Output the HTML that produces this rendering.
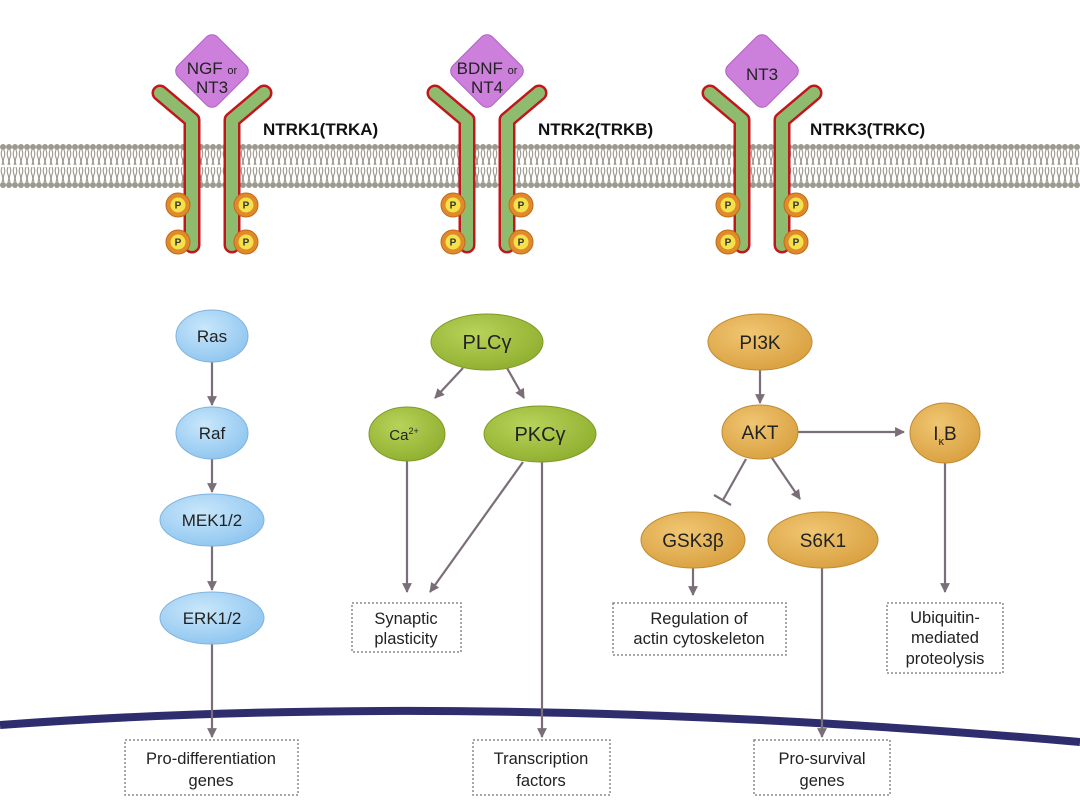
<!DOCTYPE html>
<html><head><meta charset="utf-8"><style>
html,body{margin:0;padding:0;background:#fff;}
svg{display:block;font-family:"Liberation Sans",Arial,sans-serif;}
</style></head><body>
<svg width="1080" height="805" viewBox="0 0 1080 805" xmlns="http://www.w3.org/2000/svg">
<defs>
<pattern id="lip" x="0" y="143" width="6" height="46" patternUnits="userSpaceOnUse">
<rect x="0" y="0" width="6" height="46" fill="#fff"/>
<circle cx="3" cy="4" r="3" fill="#9c998e"/>
<path d="M2 7 q-1.5 4 0 7.5 q1.5 4 0 7.5 M4 7 q1.5 4 0 7.5 q-1.5 4 0 7.5" stroke="#9c998e" stroke-width="1.1" fill="none"/>
<path d="M2 24 q-1.5 4 0 7.5 q1.5 4 0 7.5 M4 24 q1.5 4 0 7.5 q-1.5 4 0 7.5" stroke="#9c998e" stroke-width="1.1" fill="none"/>
<circle cx="3" cy="42" r="3" fill="#9c998e"/>
</pattern>
<marker id="ar" viewBox="0 0 10 10" refX="9" refY="5" markerWidth="4.5" markerHeight="4.5" orient="auto"><path d="M0 0 L10 5 L0 10z" fill="#7a6f78"/></marker>
<radialGradient id="gb" cx="40%" cy="35%" r="70%"><stop offset="0" stop-color="#c9e7fb"/><stop offset="1" stop-color="#8ec5ef"/></radialGradient>
<radialGradient id="gg" cx="40%" cy="35%" r="70%"><stop offset="0" stop-color="#b8d35a"/><stop offset="1" stop-color="#8fae2e"/></radialGradient>
<radialGradient id="go" cx="40%" cy="35%" r="70%"><stop offset="0" stop-color="#f0c672"/><stop offset="1" stop-color="#d9a040"/></radialGradient>
<g id="rec">
<path d="M-52 93 L-20 120 L-20 245" stroke="#c0171c" stroke-width="17" fill="none" stroke-linecap="round" stroke-linejoin="round"/>
<path d="M52 93 L20 120 L20 245" stroke="#c0171c" stroke-width="17" fill="none" stroke-linecap="round" stroke-linejoin="round"/>
<path d="M-52 93 L-20 120 L-20 245" stroke="#8fbb6e" stroke-width="12" fill="none" stroke-linecap="round" stroke-linejoin="round"/>
<path d="M52 93 L20 120 L20 245" stroke="#8fbb6e" stroke-width="12" fill="none" stroke-linecap="round" stroke-linejoin="round"/>
<g fill="#e08a2a" stroke="#c06a1a" stroke-width="1">
<circle cx="-34" cy="205" r="12"/><circle cx="-34" cy="242" r="12"/><circle cx="34" cy="205" r="12"/><circle cx="34" cy="242" r="12"/></g>
<g fill="#f5e14a"><circle cx="-34" cy="205" r="7.5"/><circle cx="-34" cy="242" r="7.5"/><circle cx="34" cy="205" r="7.5"/><circle cx="34" cy="242" r="7.5"/></g>
<g font-size="10" font-weight="bold" text-anchor="middle" fill="#333"><text x="-34" y="208.5">P</text><text x="-34" y="245.5">P</text><text x="34" y="208.5">P</text><text x="34" y="245.5">P</text></g>
</g>
</defs>
<rect x="0" y="143" width="1080" height="46" fill="url(#lip)"/>
<use href="#rec" x="212" y="0"/><use href="#rec" x="487" y="0"/><use href="#rec" x="762" y="0"/>
<g fill="#cc80dc" stroke="#b060c4" stroke-width="1">
<rect x="184" y="43" width="56" height="56" rx="8" transform="rotate(45 212 71)"/>
<rect x="459" y="43" width="56" height="56" rx="8" transform="rotate(45 487 71)"/>
<rect x="734" y="43" width="56" height="56" rx="8" transform="rotate(45 762 71)"/>
</g>
<g fill="#222" text-anchor="middle" font-size="17">
<text x="212" y="74">NGF <tspan font-size="11">or</tspan></text><text x="212" y="93">NT3</text>
<text x="487" y="74">BDNF <tspan font-size="11">or</tspan></text><text x="487" y="93">NT4</text>
<text x="762" y="80">NT3</text>
</g>
<g font-size="17" font-weight="bold" fill="#111">
<text x="263" y="135">NTRK1(TRKA)</text><text x="538" y="135">NTRK2(TRKB)</text><text x="810" y="135">NTRK3(TRKC)</text>
</g>
<path d="M0 725 Q480 690 1080 742" stroke="#2e2d6e" stroke-width="8" fill="none"/>
<g stroke="#7a6f78" stroke-width="2.2" fill="none" marker-end="url(#ar)">
<line x1="212" y1="362" x2="212" y2="405"/>
<line x1="212" y1="459" x2="212" y2="492"/>
<line x1="212" y1="546" x2="212" y2="590"/>
<line x1="212" y1="644" x2="212" y2="737"/>
<line x1="463" y1="368" x2="435" y2="398"/>
<line x1="507" y1="368" x2="524" y2="398"/>
<line x1="407" y1="460" x2="407" y2="592"/>
<line x1="523" y1="462" x2="430" y2="592"/>
<line x1="542" y1="462" x2="542" y2="737"/>
<line x1="760" y1="370" x2="760" y2="403"/>
<line x1="798" y1="432" x2="904" y2="432"/>
<line x1="772" y1="458" x2="800" y2="499"/>
<line x1="693" y1="566" x2="693" y2="595"/>
<line x1="822" y1="566" x2="822" y2="737"/>
<line x1="945" y1="463" x2="945" y2="592"/>
</g>
<line x1="746" y1="459" x2="723" y2="500" stroke="#7a6f78" stroke-width="2.2"/>
<line x1="714" y1="495" x2="731" y2="505" stroke="#7a6f78" stroke-width="2.2"/>
<g stroke="#8a8a8a" stroke-width="1.5" stroke-dasharray="2 2" fill="#fff">
<rect x="125" y="740" width="173" height="55"/>
<rect x="352" y="603" width="109" height="49"/>
<rect x="473" y="740" width="137" height="55"/>
<rect x="613" y="603" width="173" height="52"/>
<rect x="887" y="603" width="116" height="70"/>
<rect x="754" y="740" width="136" height="55"/>
</g>
<g font-size="16.5" fill="#222" text-anchor="middle">
<text x="211" y="764">Pro-differentiation</text><text x="211" y="786">genes</text>
<text x="406" y="624">Synaptic</text><text x="406" y="644">plasticity</text>
<text x="541" y="764">Transcription</text><text x="541" y="786">factors</text>
<text x="699" y="624">Regulation of</text><text x="699" y="644">actin cytoskeleton</text>
<text x="945" y="623">Ubiquitin-</text><text x="945" y="643">mediated</text><text x="945" y="664">proteolysis</text>
<text x="822" y="764">Pro-survival</text><text x="822" y="786">genes</text>
</g>
<g stroke-width="1">
<ellipse cx="212" cy="336" rx="36" ry="26" fill="url(#gb)" stroke="#7fb3de"/>
<ellipse cx="212" cy="433" rx="36" ry="26" fill="url(#gb)" stroke="#7fb3de"/>
<ellipse cx="212" cy="520" rx="52" ry="26" fill="url(#gb)" stroke="#7fb3de"/>
<ellipse cx="212" cy="618" rx="52" ry="26" fill="url(#gb)" stroke="#7fb3de"/>
<ellipse cx="487" cy="342" rx="56" ry="28" fill="url(#gg)" stroke="#7f9a28"/>
<ellipse cx="407" cy="434" rx="38" ry="27" fill="url(#gg)" stroke="#7f9a28"/>
<ellipse cx="540" cy="434" rx="56" ry="28" fill="url(#gg)" stroke="#7f9a28"/>
<ellipse cx="760" cy="342" rx="52" ry="28" fill="url(#go)" stroke="#c08a30"/>
<ellipse cx="760" cy="432" rx="38" ry="27" fill="url(#go)" stroke="#c08a30"/>
<ellipse cx="945" cy="433" rx="35" ry="30" fill="url(#go)" stroke="#c08a30"/>
<ellipse cx="693" cy="540" rx="52" ry="28" fill="url(#go)" stroke="#c08a30"/>
<ellipse cx="823" cy="540" rx="55" ry="28" fill="url(#go)" stroke="#c08a30"/>
</g>
<g fill="#222" text-anchor="middle" font-size="17">
<text x="212" y="342">Ras</text><text x="212" y="439">Raf</text><text x="212" y="526">MEK1/2</text><text x="212" y="624">ERK1/2</text>
<text x="487" y="349" font-size="20">PLCγ</text>
<text x="404" y="440" font-size="15">Ca<tspan font-size="9" dy="-6">2+</tspan></text>
<text x="540" y="441" font-size="20">PKCγ</text>
<text x="760" y="349" font-size="19">PI3K</text>
<text x="760" y="439" font-size="19">AKT</text>
<text x="945" y="440" font-size="19">I<tspan font-size="11" dy="5">κ</tspan><tspan dy="-5">B</tspan></text>
<text x="693" y="547" font-size="19">GSK3β</text>
<text x="823" y="547" font-size="19">S6K1</text>
</g>
</svg>
</body></html>
